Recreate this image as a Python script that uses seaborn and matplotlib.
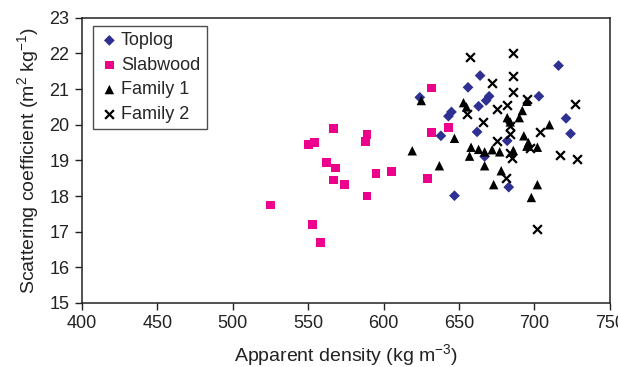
import numpy as np
import pandas as pd
import matplotlib.pyplot as plt
import seaborn as sns

# ---- data ----
toplog_x = [624, 645, 643, 638, 647, 656, 664, 663, 662, 667, 668, 670, 682, 683, 703, 716, 721, 724]
toplog_y = [20.77, 20.36, 20.24, 19.69, 18.01, 21.05, 21.38, 20.52, 19.8, 19.11, 20.68, 20.8, 19.55, 18.25, 20.8, 21.66, 20.18, 19.75]

slab_x = [525, 550, 554, 553, 558, 562, 567, 568, 567, 574, 589, 588, 589, 595, 605, 629, 632, 632, 643]
slab_y = [17.75, 19.45, 19.51, 17.2, 16.7, 18.95, 19.89, 18.79, 18.45, 18.32, 19.73, 19.53, 18.0, 18.63, 18.68, 18.5, 19.79, 21.03, 19.92]

fam1_x = [625, 619, 637, 647, 653, 655, 658, 657, 663, 667, 667, 672, 673, 677, 678, 682, 684, 686,
          690, 692, 693, 695, 695, 696, 698, 702, 702, 710]
fam1_y = [20.68, 19.27, 18.85, 19.62, 20.62, 20.5, 19.37, 19.12, 19.31, 19.24, 18.85, 19.3, 18.32, 19.24, 18.71, 20.2, 20.08, 19.28,
          20.2, 20.4, 19.69, 19.4, 20.66, 19.5, 17.96, 19.37, 18.32, 20.0]

fam2_x = [657, 686, 686, 672, 686, 695, 682, 675, 655, 666, 727, 704, 684, 684, 675, 684, 685, 717, 728, 681, 702, 697]
fam2_y = [21.89, 22.0, 21.37, 21.17, 20.92, 20.71, 20.56, 20.43, 20.3, 20.08, 20.58, 19.81, 19.96, 19.75, 19.55, 19.22, 19.08, 19.14, 19.05, 18.5, 17.08, 19.34]

groups = ["Toplog", "Slabwood", "Family 1", "Family 2"]
colors = {"Toplog": "#2E3192", "Slabwood": "#EC008C", "Family 1": "black", "Family 2": "black"}
markers = {"Toplog": "D", "Slabwood": "s", "Family 1": "^", "Family 2": "x"}
sizes = {"Toplog": 30, "Slabwood": 40, "Family 1": 46, "Family 2": 40}

df = pd.concat([
    pd.DataFrame({"density": toplog_x, "scatter": toplog_y, "group": "Toplog"}),
    pd.DataFrame({"density": slab_x, "scatter": slab_y, "group": "Slabwood"}),
    pd.DataFrame({"density": fam1_x, "scatter": fam1_y, "group": "Family 1"}),
    pd.DataFrame({"density": fam2_x, "scatter": fam2_y, "group": "Family 2"}),
], ignore_index=True)

sns.set_style("white")
plt.rcParams["font.family"] = ["Liberation Sans", "DejaVu Sans"]
plt.rcParams["mathtext.default"] = "regular"

fig = plt.figure(figsize=(6.18, 3.67), dpi=100)
ax = fig.add_axes([0.1327, 0.1744, 0.854, 0.777])

for g in groups:
    sub = df[df["group"] == g]
    if markers[g] == "x":
        sns.scatterplot(data=sub, x="density", y="scatter", ax=ax, marker="x",
                        color=colors[g], s=sizes[g], linewidth=1.6, label=g)
    else:
        sns.scatterplot(data=sub, x="density", y="scatter", ax=ax, marker=markers[g],
                        color=colors[g], s=sizes[g], edgecolor="none", label=g)

ax.set_xlim(400, 750)
ax.set_ylim(15, 23)
ax.set_xticks(np.arange(400, 751, 50))
ax.set_yticks(np.arange(15, 24, 1))
ax.tick_params(axis="both", direction="out", length=5, width=1, labelsize=13, pad=4,
               bottom=True, left=True, top=False, right=False, colors="#222222")
for sp in ax.spines.values():
    sp.set_color("#222222")
    sp.set_linewidth(1.1)

ax.set_xlabel(r"Apparent density (kg m$^{-3}$)", fontsize=14, color="#222222", labelpad=7)
ax.set_ylabel(r"Scattering coefficient (m$^2$ kg$^{-1}$)", fontsize=14, color="#222222", labelpad=6)

leg = ax.legend(loc="upper left", bbox_to_anchor=(0.021, 0.972), fontsize=13, frameon=True,
                fancybox=False, edgecolor="#222222", handletextpad=0.1, borderpad=0.35,
                labelspacing=0.42, handlelength=1.1, borderaxespad=0)
leg.get_frame().set_linewidth(1.0)

fig.savefig("out.png", dpi=100)
